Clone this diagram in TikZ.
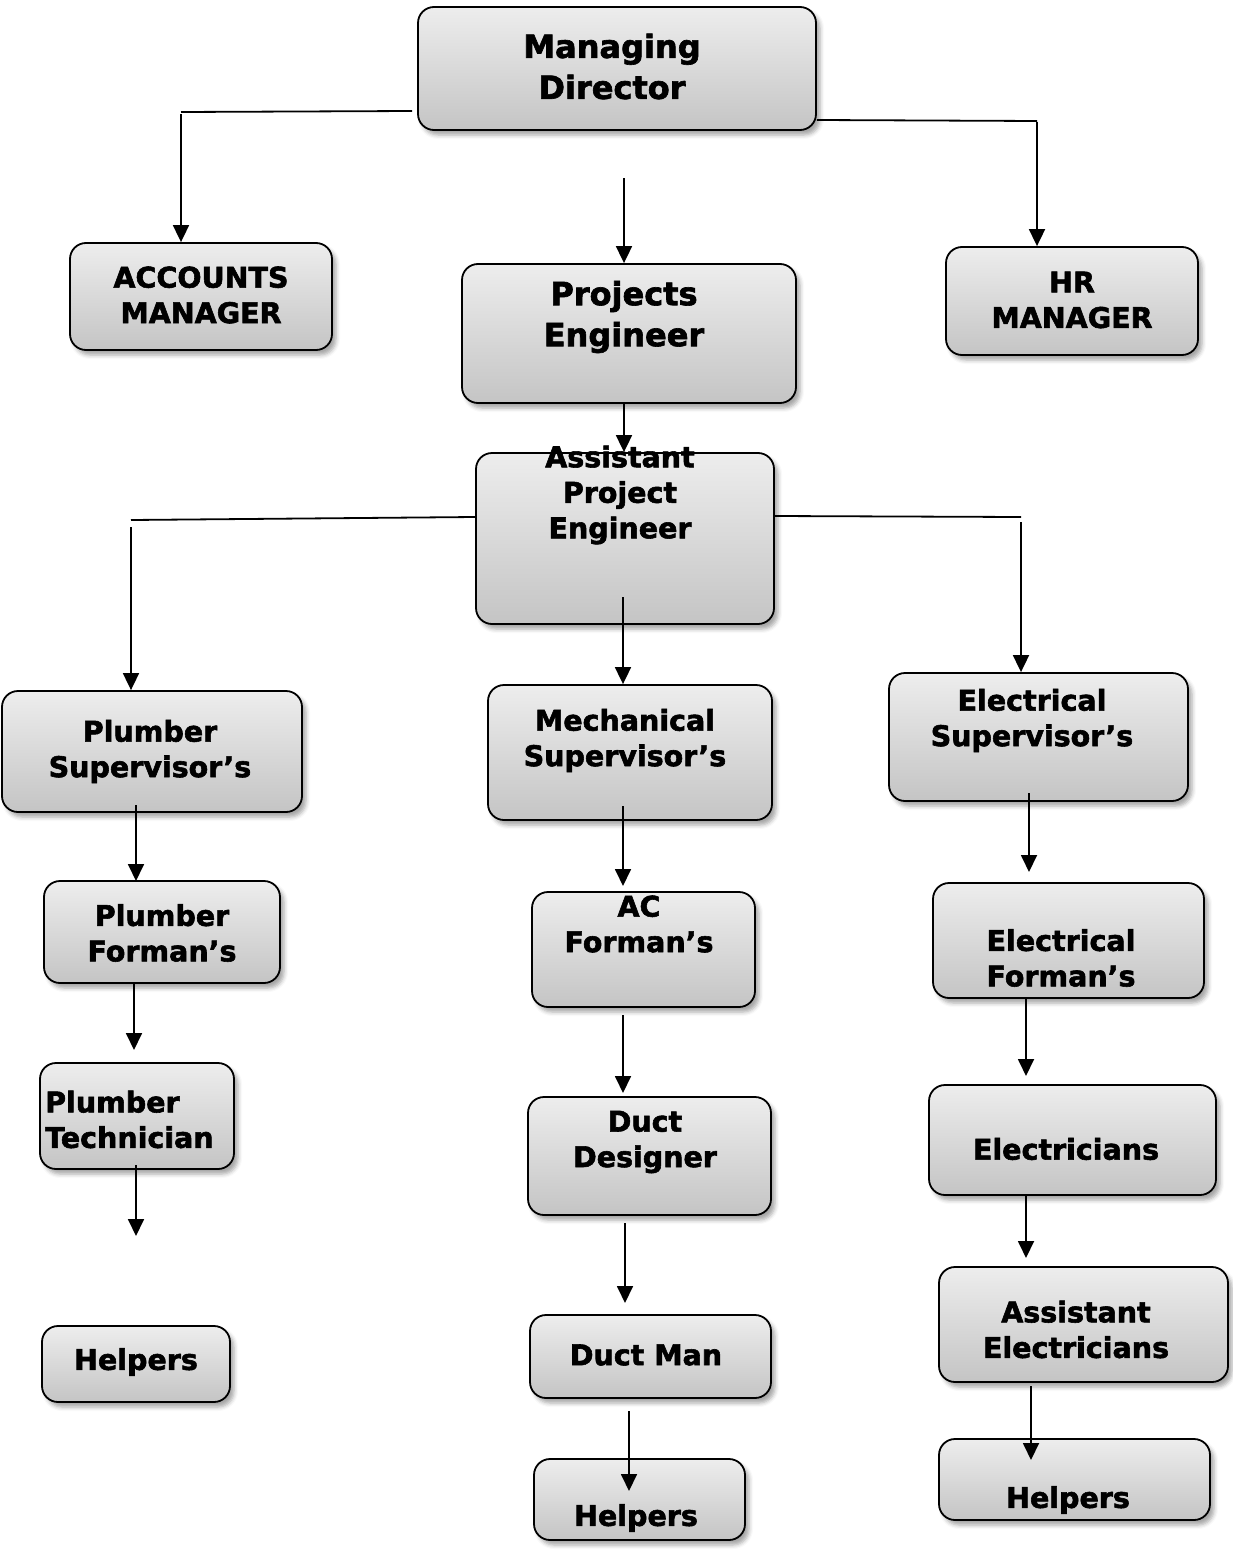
\documentclass[tikz,border=0pt]{standalone}
\usepackage{fontspec}
\setmainfont{DejaVu Sans}[BoldFeatures={FakeBold=2}]
\usetikzlibrary{arrows.meta,shadows.blur}
\begin{document}
\begin{tikzpicture}[x=1pt,y=-1pt]
    \newcommand{\orgbox}[5]{\node[box, minimum width=#4pt, minimum height=#5pt] (#1) at (#2,#3) {};}

    % set the styles of boxes, labels and connectors
    \tikzset{
        box/.style={
            draw=black,
            line width=1.8pt,
            rounded corners=16pt,
            inner sep=0pt,
            top color=gray!14,
            bottom color=gray!46,
            blur shadow={shadow xshift=4pt, shadow yshift=-5pt, shadow blur radius=4pt, shadow opacity=35}
            },
        big/.style={font=\fontsize{32}{41}\selectfont\bfseries, align=center, inner sep=0pt},
        small/.style={font=\fontsize{28.5}{35.5}\selectfont\bfseries, align=center, inner sep=0pt},
        link/.style={line width=1.8pt},
        arr/.style={line width=1.8pt, -{Triangle[length=17pt,width=16pt]}}
    }

    \useasboundingbox (0,0) rectangle (1233,1552);

    % boxes
    \orgbox{md}{617}{68.5}{398}{123}
    \orgbox{acc}{201}{296.5}{262}{107}
    \orgbox{pe}{629}{333.5}{334}{139}
    \orgbox{hr}{1072}{301}{252}{108}
    \orgbox{ape}{625}{538.5}{298}{171}
    \orgbox{ps}{152}{751.5}{300}{121}
    \orgbox{ms}{630}{752.5}{284}{135}
    \orgbox{es}{1038.5}{737}{299}{128}
    \orgbox{pf}{162}{932}{236}{102}
    \orgbox{ac}{643.5}{949.5}{223}{115}
    \orgbox{ef}{1068.5}{940.5}{271}{115}
    \orgbox{pt}{137}{1116}{194}{106}
    \orgbox{dd}{649.5}{1156}{243}{118}
    \orgbox{el}{1072.5}{1140}{287}{110}
    \orgbox{hpl}{136}{1364}{188}{76}
    \orgbox{dm}{650.5}{1356.5}{241}{83}
    \orgbox{ae}{1083.5}{1324.5}{289}{115}
    \orgbox{hpm}{639.5}{1499.5}{211}{81}
    \orgbox{hpe}{1074.5}{1479.5}{271}{81}

    % joints
    \coordinate (mdl) at (181,112);
    \coordinate (mdc) at (624,178);
    \coordinate (mdr) at (1037,121);
    \coordinate (pes) at (624,403);
    \coordinate (apel) at (131,520);
    \coordinate (apem) at (623,597);
    \coordinate (aper) at (1021,517);

    % top branches
    \draw[link] ([xshift=-5pt,yshift=-42.5pt]md.west) -- (mdl);
    \draw[arr] ([yshift=-2pt]mdl) -- (acc.north -| mdl);
    \draw[arr] (mdc) -- (pe.north -| mdc);
    \draw[link] ([yshift=-51.5pt]md.east) -- (mdr);
    \draw[arr] ([yshift=-1pt]mdr) -- (hr.north -| mdr);
    \draw[arr] (pes) -- (ape.north -| pes);

    % middle branches
    \draw[link] ([yshift=21.5pt]ape.west) -- (apel);
    \draw[arr] ([yshift=-7pt]apel) -- (ps.north -| apel);
    \draw[arr] (apem) -- (ms.north -| apem);
    \draw[link] ([yshift=22.5pt]ape.east) -- (aper);
    \draw[arr] ([yshift=-5pt]aper) -- (es.north -| aper);

    % chains
    \foreach \n/\x/\ya/\yb in {p1/136/805/881, p2/134/983/1050, p3/136/1165/1236,
                               m1/623/806/886, m2/623/1015/1093, m3/625/1223/1303, m4/629/1411/1491,
                               e1/1029/793/872, e2/1026/998/1076, e3/1026/1196/1258, e4/1031/1386/1460}{
        \coordinate (\n-a) at (\x,\ya);
        \coordinate (\n-b) at (\x,\yb);
        \draw[arr] (\n-a) -- (\n-b);
    }

    % labels
    \node[big] (md-t) at (612,66.5) {Managing\\Director};
    \node[small] (acc-t) at (201,295) {ACCOUNTS\\MANAGER};
    \node[big] (pe-t) at (624,317) {Projects\\Engineer};
    \node[small] (hr-t) at (1072,300) {HR\\MANAGER};
    \node[small] (ape-t) at (620,495) {Assistant\\Project\\Engineer};
    \node[small] (ps-t) at (150,751.5) {Plumber\\Supervisor’s};
    \node[small] (ms-t) at (625,740.5) {Mechanical\\Supervisor’s};
    \node[small] (es-t) at (1032,720.5) {Electrical\\Supervisor’s};
    \node[small] (pf-t) at (162,933) {Plumber\\Forman’s};
    \node[small] (ac-t) at (639,924) {AC\\Forman’s};
    \node[small] (ef-t) at (1061,958) {Electrical\\Forman’s};
    \node[small, align=left, anchor=west] (pt-t) at (45,1119.5) {Plumber\\Technician};
    \node[small] (dd-t) at (645,1142) {Duct\\Designer};
    \node[small] (el-t) at (1066,1149) {Electricians};
    \node[small] (hpl-t) at (136,1362) {Helpers};
    \node[small] (dm-t) at (646,1355) {Duct Man};
    \node[small] (ae-t) at (1076,1329.5) {Assistant\\Electricians};
    \node[small] (hpm-t) at (636,1518) {Helpers};
    \node[small] (hpe-t) at (1068,1500) {Helpers};

\end{tikzpicture}
\end{document}
